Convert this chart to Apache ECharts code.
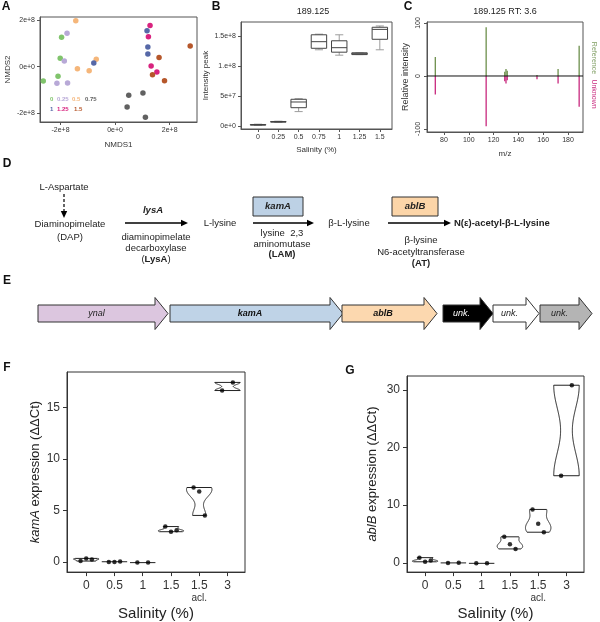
<!DOCTYPE html>
<html><head><meta charset="utf-8">
<script src="https://cdn.jsdelivr.net/npm/echarts@6/dist/echarts.min.js"></script>
<style>html,body{margin:0;padding:0;background:#fff}#c{width:600px;height:622px}</style>
</head><body><div id="c"></div>
<script>
// ---------- Panel A : NMDS scatter (units of 1e8) ----------
const nmdsGroups = ['0','0.25','0.5','0.75','1','1.25','1.5'];
const nmdsColors = ['#80c46c','#b8a9d7','#f5b67a','#616161','#5668a7','#d8237f','#b6572b'];
const nmds1 = [
  [-2.63,-1.96,-2.01,-2.09],
  [-1.76,-1.86,-2.13,-1.74],
  [-1.44,-1.38,-0.95,-0.69],
  [0.50,1.02,0.44,1.11],
  [-0.78,1.17,1.20,1.20],
  [1.28,1.22,1.32,1.53],
  [2.75,1.61,1.37,1.81]
];
const nmds2 = [
  [-0.61,1.26,0.36,-0.41],
  [1.43,0.24,-0.71,-0.70],
  [1.97,-0.09,-0.17,0.32],
  [-1.22,-1.13,-1.73,-2.17],
  [0.16,1.54,0.84,0.54],
  [1.77,1.28,0.03,-0.23],
  [0.89,0.39,-0.34,-0.60]
];
const aTickVals = [-2,0,2];
const aTickLabels = ['-2e+8','0e+0','2e+8'];

// ---------- Panel B : intensity boxplots ----------
const bSalinity = ['0','0.25','0.5','0.75','1','1.25','1.5'];
const bMin = [1.0e6,6.0e6,2.4e7,1.27e8,1.18e8,1.19e8,1.27e8];
const bQ1  = [1.5e6,6.5e6,3.05e7,1.295e8,1.23e8,1.19e8,1.445e8];
const bMed = [2.0e6,7.0e6,4.0e7,1.405e8,1.305e8,1.205e8,1.61e8];
const bQ3  = [2.5e6,7.5e6,4.45e7,1.52e8,1.42e8,1.22e8,1.645e8];
const bMax = [3.0e6,8.0e6,4.55e7,1.53e8,1.52e8,1.22e8,1.667e8];
const bTickVals = [0,5e7,1e8,1.5e8];
const bTickLabels = ['0e+0','5e+7','1.e+8','1.5e+8'];

// ---------- Panel C : mirrored spectrum ----------
const cMz  = [73,114,129,130,131,155,172,189];
const cRef = [36,92,8,13,10,2,13,57];
const cUnk = [-35,-95,-10,-14,-8,-6,-14,-58];
const cXTicks = [80,100,120,140,160,180];
const cYTicks = [-100,0,100];

// ---------- Panel E : gene cluster ----------
const geneNames = ['ynal','kamA','ablB','unk.','unk.','unk.'];
const geneStart = [38,170,342,443,493,540];
const geneEnd   = [168,343,437,493,539,592];

// ---------- Panels F & G : qPCR violins ----------
const salinityLabels = ['0','0.5','1','1.5','1.5','3'];
const kamAReps = [[0.10,0.36,0.25],[0.02,0.02,0.05],[-0.05,-0.05],[3.45,2.95,3.10],[7.24,6.86,4.53],[16.65,17.44]];
const ablBReps = [[0.89,0.17,0.40],[-0.05,0.0],[-0.10,-0.10],[4.50,3.23,2.40],[9.25,6.75,5.30],[15.1,30.8]];
const fYTicks = [0,5,10,15];
const gYTicks = [0,10,20,30];

const FONT = 'Liberation Sans, Arial, Helvetica, sans-serif';
const chart = echarts.init(document.getElementById('c'), null, {renderer:'canvas', width:600, height:622});

function lab(vals, labels){
  return v => { const k = vals.findIndex(t => Math.abs(t - v) <= 1e-6 * Math.max(1, Math.abs(t))); return k >= 0 ? labels[k] : ''; };
}
function axis(o){
  const lc = o.tc || '#555';
  return {
    type:'value', gridIndex:o.g, min:o.min, max:o.max, show:o.show !== false,
    splitLine:{show:false}, axisLine:{show:true, onZero:false, lineStyle:{color:lc, width:1}},
    axisTick:{show:true, inside:false, customValues:o.vals, length:o.tl || 3, lineStyle:{color:lc, width:1}},
    axisLabel:{show:true, customValues:o.vals, formatter:lab(o.vals, o.labels), fontSize:o.fs, color:o.lc || '#333',
      fontFamily:FONT, margin:o.lm == null ? 5 : o.lm, rotate:o.rot || 0, rich:o.rich, lineHeight:o.lh},
    name:o.name, nameLocation:'middle', nameGap:o.ng,
    nameTextStyle:{fontSize:o.nfs, color:o.nc || '#333', fontFamily:FONT, rich:o.nrich}
  };
}

// ----- KDE (ggplot-like violin, trimmed, nrd0 bandwidth) -----
function q7(s, p){ const h = (s.length - 1) * p, lo = Math.floor(h); const hi = Math.min(lo + 1, s.length - 1); return s[lo] + (h - lo) * (s[hi] - s[lo]); }
function bwNrd0(x){
  const n = x.length, m = x.reduce((a,b)=>a+b,0)/n;
  const sd = Math.sqrt(x.reduce((a,b)=>a+(b-m)*(b-m),0)/(n-1));
  const s = x.slice().sort((a,b)=>a-b);
  let lo = Math.min(sd, (q7(s,0.75)-q7(s,0.25))/1.34);
  if (!lo) lo = sd || Math.abs(x[0]) || 1;
  return 0.9 * lo * Math.pow(n, -0.2);
}
function profile(x){
  const mn = Math.min(...x), mx = Math.max(...x);
  if (mx - mn < 0.06) return {flat:true, y:(mn+mx)/2};
  const bw = bwNrd0(x), ys = [], d = [];
  for (let k = 0; k <= 120; k++){
    const y = mn + (mx - mn) * k / 120; ys.push(y);
    d.push(x.reduce((a, xi) => a + Math.exp(-0.5 * ((y - xi) / bw) ** 2), 0));
  }
  const dm = Math.max(...d);
  return {flat:false, ys, w:d.map(v => v / dm)};
}
function violinSeries(reps, xi, yi){
  const prof = reps.map(profile);
  const hw = 0.45;
  return {
    type:'custom', xAxisIndex:xi, yAxisIndex:yi, silent:true, z:2,
    data: reps.map((r,i) => [i, r[0]]),
    renderItem(params, api){
      const i = api.value(0), p = prof[i];
      if (p.flat){
        const a = api.coord([i - hw, p.y]), b = api.coord([i + hw, p.y]);
        return {type:'line', shape:{x1:a[0], y1:a[1], x2:b[0], y2:b[1]}, style:{stroke:'#222', lineWidth:1}};
      }
      const L = [], R = [];
      p.ys.forEach((y,k) => { L.push(api.coord([i - hw * p.w[k], y])); R.push(api.coord([i + hw * p.w[k], y])); });
      return {type:'polygon', shape:{points:L.concat(R.reverse())}, style:{fill:'#fff', stroke:'#222', lineWidth:1}};
    }
  };
}
function dotSeries(reps, xi, yi){
  const pts = [];
  reps.forEach((r,i) => r.forEach((v,k) => pts.push([i + (k - (r.length - 1) / 2) * (r.length === 2 ? 0.38 : 0.2), v])));
  return {type:'scatter', xAxisIndex:xi, yAxisIndex:yi, symbolSize:4.5, itemStyle:{color:'#000'}, data:pts, z:3, silent:true};
}

const series = [];
// A
nmdsGroups.forEach((g,gi) => series.push({
  type:'scatter', xAxisIndex:0, yAxisIndex:0, symbolSize:5.5, silent:true,
  itemStyle:{color:nmdsColors[gi], opacity:1},
  data:nmds1[gi].map((x,k) => [x, nmds2[gi][k]])
}));
// B
series.push({
  type:'custom', xAxisIndex:1, yAxisIndex:1, silent:true,
  data:bSalinity.map((s,i) => [i, bMin[i], bQ1[i], bMed[i], bQ3[i], bMax[i]]),
  renderItem(params, api){
    const i = api.value(0), hw = 0.38, cw = 0.2;
    const c = v => api.coord([i, v]);
    const pMin = c(api.value(1)), pQ1 = c(api.value(2)), pMed = c(api.value(3)), pQ3 = c(api.value(4)), pMax = c(api.value(5));
    const xl = api.coord([i - hw, 0])[0], xr = api.coord([i + hw, 0])[0];
    const cl = api.coord([i - cw, 0])[0], cr = api.coord([i + cw, 0])[0];
    const g = '#9c9c9c', k = '#444';
    return {type:'group', children:[
      {type:'line', shape:{x1:pMin[0], y1:pMin[1], x2:pQ1[0], y2:pQ1[1]}, style:{stroke:g, lineWidth:1}},
      {type:'line', shape:{x1:pQ3[0], y1:pQ3[1], x2:pMax[0], y2:pMax[1]}, style:{stroke:g, lineWidth:1}},
      {type:'line', shape:{x1:cl, y1:pMin[1], x2:cr, y2:pMin[1]}, style:{stroke:g, lineWidth:1}},
      {type:'line', shape:{x1:cl, y1:pMax[1], x2:cr, y2:pMax[1]}, style:{stroke:g, lineWidth:1}},
      {type:'rect', shape:{x:xl, y:pQ3[1], width:xr - xl, height:Math.max(pQ1[1] - pQ3[1], 0.5)}, style:{fill:'#fff', stroke:k, lineWidth:1}},
      {type:'line', shape:{x1:xl, y1:pMed[1], x2:xr, y2:pMed[1]}, style:{stroke:k, lineWidth:1}}
    ]};
  }
});
// C
function specSeries(vals, color){
  return {type:'custom', xAxisIndex:2, yAxisIndex:2, silent:true,
    data:cMz.map((m,i) => [m, vals[i]]),
    renderItem(params, api){
      const a = api.coord([api.value(0), 0]), b = api.coord([api.value(0), api.value(1)]);
      return {type:'line', shape:{x1:a[0], y1:a[1], x2:b[0], y2:b[1]}, style:{stroke:color, lineWidth:1.3}};
    }};
}
series.push(specSeries(cRef, '#6d8f4c'));
series.push(specSeries(cUnk, '#c8287e'));
series.push({type:'custom', xAxisIndex:2, yAxisIndex:2, silent:true, data:[[cMz[0], 0]],
  renderItem(params, api){
    const cs = params.coordSys, y0 = api.coord([api.value(0), 0])[1];
    return {type:'line', shape:{x1:cs.x, y1:y0, x2:cs.x + cs.width, y2:y0}, style:{stroke:'#111', lineWidth:1}};
  }});
// E
const geneFill = ['#dcc6df','#bfd3e7','#fcd8af','#000000','#ffffff','#b4b4b4'];
const geneTextColor = ['#222','#111','#111','#fff','#222','#222'];
const geneBold = [false,true,true,false,false,false];
series.push({type:'custom', xAxisIndex:3, yAxisIndex:3, silent:true,
  data:geneNames.map((n,i) => [geneStart[i], geneEnd[i], i]),
  renderItem(params, api){
    const i = api.value(2);
    const s = api.coord([api.value(0), 0.5]), e = api.coord([api.value(1), 0.5]);
    const cy = s[1], bh = 8.5, hh = 16, hl = 13, hx = e[0] - hl;
    return {type:'group', children:[
      {type:'polygon', shape:{points:[[s[0],cy-bh],[hx,cy-bh],[hx,cy-hh],[e[0],cy],[hx,cy+hh],[hx,cy+bh],[s[0],cy+bh]]},
        style:{fill:geneFill[i], stroke:'#333', lineWidth:1}},
      {type:'text', x:(s[0] + hx) / 2, y:cy, style:{text:geneNames[i], fill:geneTextColor[i],
        font:'italic ' + (geneBold[i] ? 'bold ' : '') + '9px ' + FONT, textAlign:'center', textVerticalAlign:'middle'}}
    ]};
  }});
// F, G
series.push(violinSeries(kamAReps, 4, 4));
series.push(dotSeries(kamAReps, 4, 4));
series.push(violinSeries(ablBReps, 5, 5));
series.push(dotSeries(ablBReps, 5, 5));

const fgXLabels = salinityLabels.map((s,i) => i === 4 ? s + '\n{s|acl.}' : s);
const fgRich = {s:{fontSize:10, color:'#333', fontFamily:FONT, padding:[0,0,0,0]}};

const xAxis = [
  axis({g:0, min:-2.75, max:3.0, vals:aTickVals, labels:aTickLabels, fs:7, name:'NMDS1', ng:19, nfs:8}),
  axis({g:1, min:-0.84, max:6.6, vals:bSalinity.map((s,i)=>i), labels:bSalinity, fs:7, name:'Salinity (%)', ng:17, nfs:8}),
  axis({g:2, min:66.3, max:192.1, vals:cXTicks, labels:cXTicks.map(String), fs:7, name:'m/z', ng:18, nfs:8}),
  {type:'value', gridIndex:3, min:0, max:600, show:false},
  axis({g:4, min:-0.68, max:5.62, vals:[0,1,2,3,4,5], labels:fgXLabels, fs:12, tl:4, tc:'#333', lm:7, rich:fgRich, lh:13,
        name:'Salinity (%)', ng:24, nfs:15, nc:'#222'}),
  axis({g:5, min:-0.64, max:5.62, vals:[0,1,2,3,4,5], labels:fgXLabels, fs:12, tl:4, tc:'#333', lm:7, rich:fgRich, lh:13,
        name:'Salinity (%)', ng:24, nfs:15, nc:'#222'})
];
const yAxis = [
  axis({g:0, min:-2.37, max:2.13, vals:aTickVals, labels:aTickLabels, fs:7, name:'NMDS2', ng:28, nfs:8}),
  axis({g:1, min:-5e6, max:1.733e8, vals:bTickVals, labels:bTickLabels, fs:7, name:'Intensity peak', ng:31, nfs:8}),
  axis({g:2, min:-105.7, max:101.9, vals:cYTicks, labels:cYTicks.map(String), fs:7, rot:90, name:'Relative intensity', ng:17, nfs:9}),
  {type:'value', gridIndex:3, min:0, max:1, show:false},
  axis({g:4, min:-0.97, max:18.45, vals:fYTicks, labels:fYTicks.map(String), fs:12, tl:4, tc:'#333', lm:7,
        name:'{i|kamA} expression (ΔΔCt)', ng:25, nfs:13, nc:'#222',
        nrich:{i:{fontStyle:'italic', fontSize:13, color:'#222', fontFamily:FONT}}}),
  axis({g:5, min:-1.62, max:32.4, vals:gYTicks, labels:gYTicks.map(String), fs:12, tl:4, tc:'#333', lm:7,
        name:'{i|ablB} expression (ΔΔCt)', ng:28, nfs:13, nc:'#222',
        nrich:{i:{fontStyle:'italic', fontSize:13, color:'#222', fontFamily:FONT}}})
];
const grid = [
  {left:40, top:17, width:157, height:105, show:true, borderColor:'#555', borderWidth:1, backgroundColor:'transparent'},
  {left:241, top:22, width:151, height:107, show:true, borderColor:'#555', borderWidth:1, backgroundColor:'transparent'},
  {left:427, top:22, width:156, height:110, show:true, borderColor:'#555', borderWidth:1, backgroundColor:'transparent'},
  {left:0, top:297, width:600, height:33, show:false},
  {left:67, top:372, width:178, height:205, show:true, borderColor:'#333', borderWidth:1, backgroundColor:'transparent'},
  {left:407, top:376, width:177, height:203, show:true, borderColor:'#333', borderWidth:1, backgroundColor:'transparent'}
];

// ---------- graphics: labels, legend, pathway ----------
const G = [];
function T(x, y, text, o){
  o = o || {};
  G.push({type:'text', x, y, rotation:o.rot || 0, silent:true, style:{
    text, fill:o.fill || '#222', font:(o.style || '') + ' ' + (o.bold ? 'bold ' : '') + (o.fs || 9.5) + 'px ' + FONT,
    textAlign:o.align || 'center', textVerticalAlign:'middle', rich:o.rich}});
}
function arrow(x1, y1, x2, y2, dashed){
  G.push({type:'line', silent:true, shape:{x1, y1, x2, y2}, style:{stroke:'#000', lineWidth:dashed ? 1.2 : 1.6, lineDash:dashed ? [3,2] : null}});
  const ang = Math.atan2(y2 - y1, x2 - x1), L = 7, W = 3.2;
  const px = -Math.sin(ang), py = Math.cos(ang);
  const tx = x2 + Math.cos(ang) * L, ty = y2 + Math.sin(ang) * L;
  G.push({type:'polygon', silent:true, shape:{points:[[tx,ty],[x2 + px * W, y2 + py * W],[x2 - px * W, y2 - py * W]]}, style:{fill:'#000'}});
}
// panel letters
[['A',6,7],['B',216,7],['C',408,7],['D',7,164],['E',7,281],['F',7,368],['G',350,371]].forEach(p => T(p[1], p[2], p[0], {bold:true, fs:12, fill:'#111'}));
// titles
T(313, 12, '189.125', {fs:9});
T(505, 12, '189.125 RT: 3.6', {fs:9});
// C side labels
T(594, 58, 'Reference', {fs:7, rot:-Math.PI/2, fill:'#7f9e62'});
T(594, 94, 'Unknown', {fs:7, rot:-Math.PI/2, fill:'#c8287e'});
// A legend
const aLegendPos = [[50,99],[57,99],[72,99],[85,99],[50,109],[57,109],[74,109]];
nmdsGroups.forEach((g,i) => T(aLegendPos[i][0], aLegendPos[i][1], g, {fs:6, bold:true, fill:nmdsColors[i], align:'left'}));
// D pathway
T(64, 187, 'L-Aspartate');
arrow(64, 194, 64, 211, true);
T(70, 224, 'Diaminopimelate');
T(70, 237, '(DAP)');
T(153, 210, 'lysA', {bold:true, style:'italic'});
arrow(125, 223, 181, 223);
T(156, 237, 'diaminopimelate');
T(156, 248, 'decarboxylase');
T(156, 259, '({b|LysA})', {rich:{b:{fontWeight:'bold', fontSize:9.5, fontFamily:FONT, fill:'#222'}}});
T(220, 223, 'L-lysine');
G.push({type:'rect', silent:true, shape:{x:253, y:197, width:50, height:19}, style:{fill:'#bdd1e5', stroke:'#333', lineWidth:1}});
T(278, 206.5, 'kamA', {bold:true, style:'italic'});
arrow(253, 223, 307, 223);
T(282, 233, 'lysine  2,3');
T(282, 244, 'aminomutase');
T(282, 254, '(LAM)', {bold:true});
T(349, 223, 'β-L-lysine');
G.push({type:'rect', silent:true, shape:{x:392, y:197, width:46, height:19}, style:{fill:'#fcd5a8', stroke:'#333', lineWidth:1}});
T(415, 206.5, 'ablB', {bold:true, style:'italic'});
arrow(388, 223, 444, 223);
T(454, 223, 'N(ε)-acetyl-β-L-lysine', {bold:true, align:'left', fs:9.5});
T(421, 240, 'β-lysine');
T(421, 252, 'N6-acetyltransferase');
T(421, 263, '(AT)', {bold:true});

chart.setOption({
  animation:false, backgroundColor:'#fff',
  grid, xAxis, yAxis, series, graphic:{elements:G}
});
</script></body></html>
